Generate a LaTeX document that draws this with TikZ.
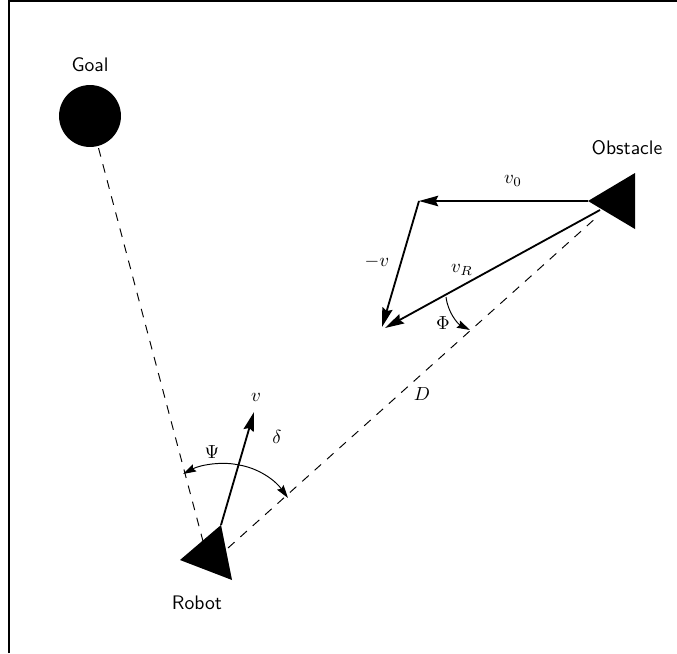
\documentclass[tikz,border=0pt]{standalone}
\usetikzlibrary{arrows.meta}
\begin{document}
\begin{tikzpicture}[x=.5714pt,y=-.5714pt,vec/.style={-{Stealth[length=11pt,width=6pt,inset=1.5pt]},line width=1.05pt},guide/.style={dash pattern=on 5pt off 4.5pt,line width=.55pt},ang/.style={-{Stealth[length=7.5pt,width=4.5pt,inset=1pt]},line width=.55pt},lbl/.style={font=\sffamily,scale=1.12},sym/.style={scale=1.08}]
\useasboundingbox(0,0)rectangle(677,653);
\draw[line width=1pt](9,653)--(9,1)--(677,1);
\coordinate(rtip)at(221,525);\coordinate(rgoal)at(204,545);\coordinate(rc)at(228,548);\coordinate(otip)at(588,201);\coordinate(oc)at(598,216);
\coordinate(vend)at(254,412);\coordinate(v0end)at(419,201);\coordinate(vrbeg)at(600,210);\coordinate(vrend)at(385,328);\coordinate(mvend)at(382,327);
\node[circle,fill,minimum size=35.4pt,inner sep=0](goal)at(90,116){};
\draw[guide](goal.center)--(rgoal);\draw[guide](rc)--(oc);
\fill(rtip)--(180,560)--(232,580)--cycle;\fill(otip)--(635,173)--(635,229)--cycle;
\node[lbl](goallbl)at(90,65){Goal};\node[lbl](robotlbl)at(197,603){Robot};\node[lbl](obstlbl)at(627,148){Obstacle};
\draw[vec](rtip)--(vend);\draw[vec](otip)--(v0end);\draw[vec](v0end)--(mvend);\draw[vec](vrbeg)--(vrend);
\draw[ang](239,465)..controls(222,461)and(200,465)..(183,474);\draw[ang](239,465)..controls(258,468)and(275,480)..(288,498);
\draw[ang](446,297)..controls(448,313)and(458,324)..(470,330);
\node[sym](v)at(256,397){$v$};\node[sym](v0)at(513,181){$v_0$};\node[sym](mv)at(377,262){$-v$};\node[sym](vr)at(462,270){$v_R$};
\node[sym](psi)at(212,452){$\Psi$};\node[sym](del)at(277,437){$\delta$};\node[sym](phi)at(443,323){$\Phi$};\node[sym](dist)at(422,394){$D$};
\end{tikzpicture}
\end{document}
